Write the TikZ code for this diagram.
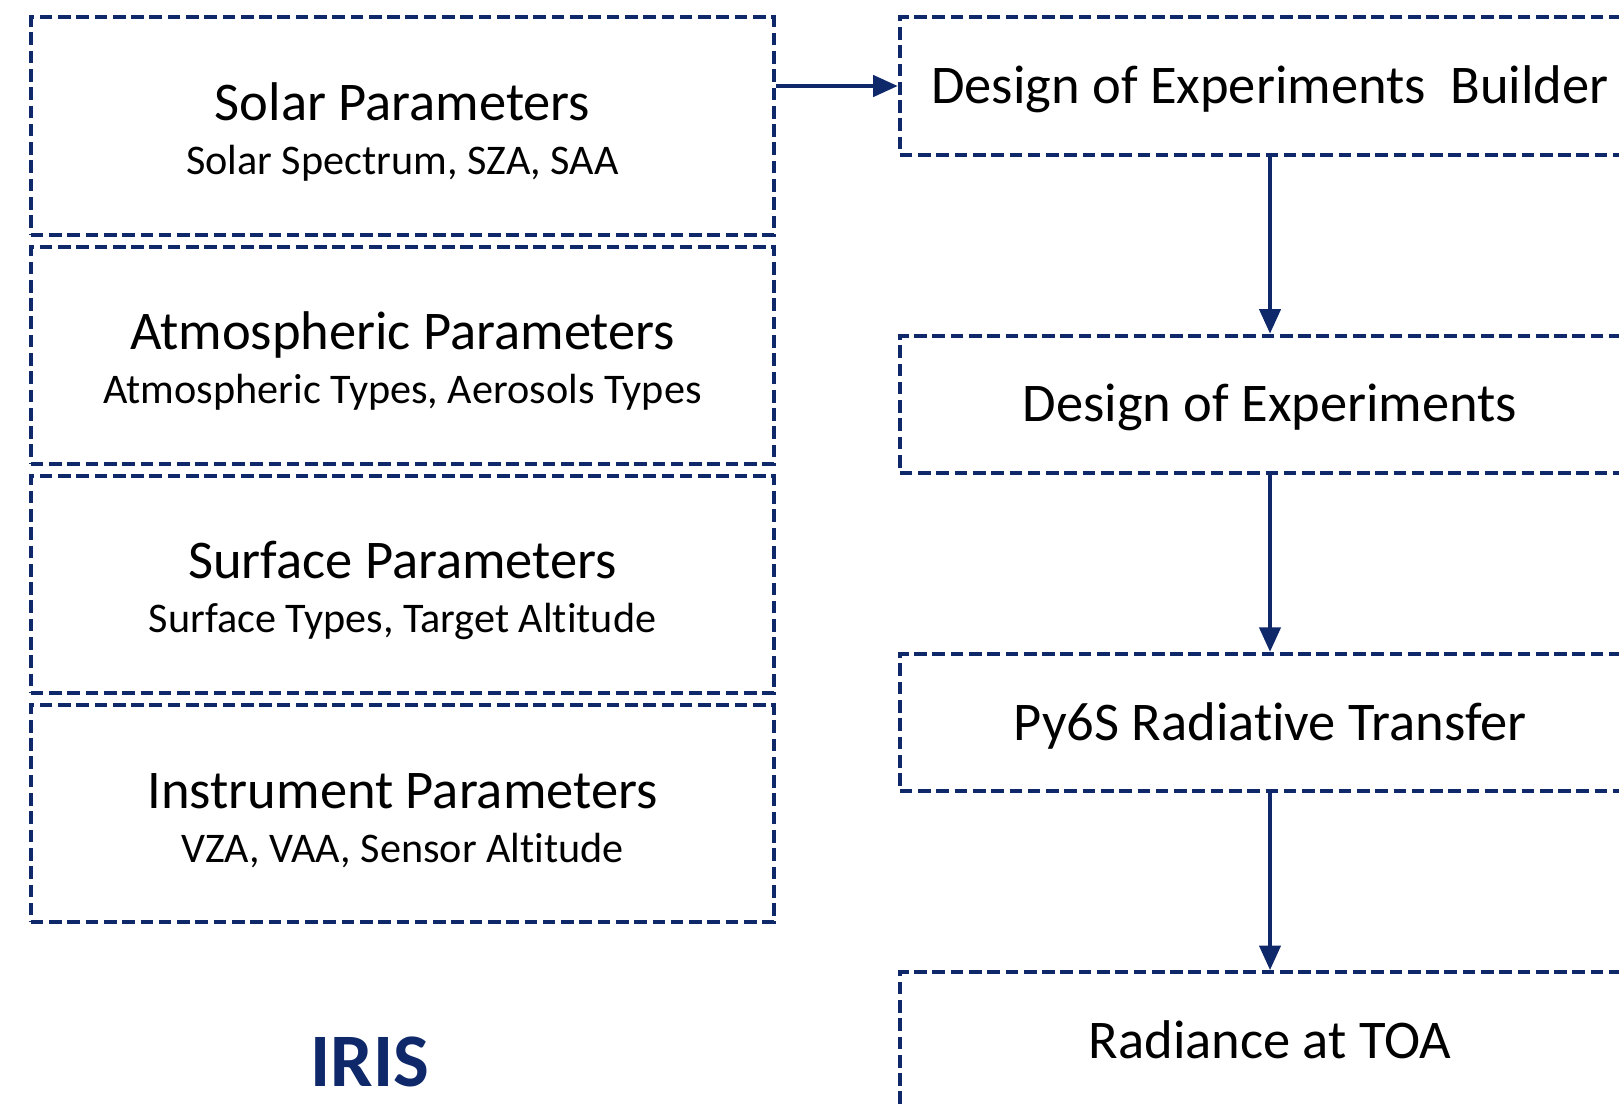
\documentclass[tikz,border=0pt]{standalone}
\usepackage{fontspec}
\setmainfont{Carlito}[Ligatures=NoCommon]
\usetikzlibrary{positioning,arrows.meta}
\definecolor{navy}{RGB}{14,40,106}

\newcommand{\params}[2]{{\fontsize{15.5}{15.4}\selectfont\rule{0pt}{14pt}#1}\\{\fontsize{12}{15.4}\selectfont #2}}

\begin{document}
\begin{tikzpicture}[x=0.01cm,y=-0.01cm,
	dashbox/.style={draw=navy, line width=1.15pt, dash pattern=on 3.6pt off 1.6pt, inner sep=0pt},
	param/.style={dashbox, minimum width=7.43cm, minimum height=2.17cm, align=center, font=\fontsize{12}{15.4}\selectfont},
	stage/.style={dashbox, minimum width=7.4cm, minimum height=1.37cm, text height=12pt, text depth=2pt, font=\fontsize{15.5}{18}\selectfont},
	flow/.style={navy, line width=1.15pt, -{Triangle[length=7pt,width=6pt]}}]
	\clip (0,0) rectangle (1619,1103);

	% input parameters
	\node[param] (solar) at (402.5,126) {\params{Solar Parameters}{Solar Spectrum, SZA, SAA}};
	\node[param, below=0.08cm of solar] (atmos) {\params{Atmospheric Parameters}{Atmospheric Types, Aerosols Types}};
	\node[param, below=0.08cm of atmos] (surface) {\params{Surface Parameters}{Surface Types, Target Altitude}};
	\node[param, below=0.08cm of surface] (instr) {\params{Instrument Parameters}{VZA, VAA, Sensor Altitude}};
	\node[font=\fontsize{21.5}{24}\selectfont\bfseries, text=navy] (iris) at (370,1062) {IRIS};

	% processing chain
	\node[stage] (builder) at (1270,86) {Design of Experiments\ \ Builder};
	\node[stage, below=1.77cm of builder] (doe) {Design of Experiments};
	\node[stage, below=1.77cm of doe] (py6s) {Py6S Radiative Transfer};
	\node[stage, below=1.77cm of py6s] (toa) {Radiance at TOA};

	\draw[flow] (solar.east |- builder.west) -- (builder.west);
	\draw[flow] (builder) -- (doe);
	\draw[flow] (doe) -- (py6s);
	\draw[flow] (py6s) -- (toa);
\end{tikzpicture}
\end{document}
